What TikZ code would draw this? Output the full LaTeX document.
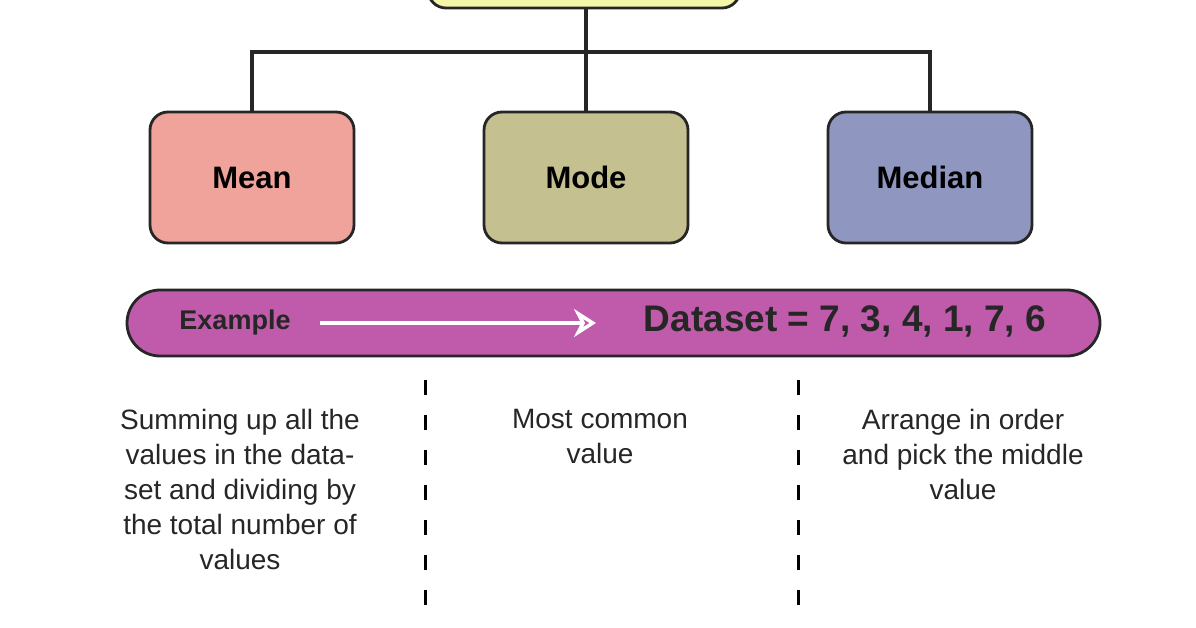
\documentclass[tikz,border=0pt]{standalone}
\usepackage{fontspec}
\setmainfont{Liberation Sans}
\usetikzlibrary{arrows.meta}
\definecolor{topc}{HTML}{F4F6A8}
\definecolor{meanc}{HTML}{F0A39A}
\definecolor{modec}{HTML}{C4C08F}
\definecolor{medc}{HTML}{8F97C0}
\definecolor{exc}{HTML}{C05AAA}
\begin{document}
\begin{tikzpicture}[x=1pt,y=-1pt,
  box/.style={draw=black!85,line width=2.8pt,rounded corners=18pt,minimum width=204pt,minimum height=131pt,font=\fontsize{31}{34}\selectfont\bfseries,inner sep=0pt},
  conn/.style={draw=black!85,line width=3.2pt},
  desc/.style={align=center,font=\fontsize{28}{35}\selectfont,text=black!85},
  sepline/.style={line width=3pt,dash pattern=on 15pt off 20pt}]
\useasboundingbox (0,0) rectangle (1196,628);
\node[box,fill=topc,minimum width=312pt,minimum height=60pt] (top) at (584,-22) {};
\node[box,fill=meanc] (mean) at (252,177.5) {Mean};
\node[box,fill=modec] (mode) at (586,177.5) {Mode};
\node[box,fill=medc] (median) at (930,177.5) {Median};
\coordinate (j) at (586,52);
\draw[conn] (top.south -| j) -- (mode.north);
\draw[conn] (mean.north) |- (j) -| (median.north);
\node[draw=black!85,line width=2.8pt,fill=exc,rounded corners=33pt,minimum width=973pt,minimum height=66pt] (ex) at (613.5,323) {};
\node[font=\fontsize{27}{30}\selectfont\bfseries,text=black!85] (exl) at (235,323) {Example};
\node[font=\fontsize{37}{40}\selectfont\bfseries,text=black!85] (ds) at (845,321) {Dataset = 7, 3, 4, 1, 7, 6};
\coordinate (a1) at (320,323);
\coordinate (a2) at (596,323);
\draw[white,line width=3.5pt,-{Stealth[length=22pt,width=28pt,open]}] (a1) -- (a2);
\coordinate (d1) at (425,380); \coordinate (d2) at (425,608);
\coordinate (d3) at (798,380); \coordinate (d4) at (798,608);
\draw[sepline] (d1) -- (d2);
\draw[sepline] (d3) -- (d4);
\node[desc,anchor=north] (t1) at (240,406) {Summing up all the\\values in the data-\\set and dividing by\\the total number of\\values};
\node[desc,anchor=north] (t2) at (600,406) {Most common\\value};
\node[desc,anchor=north] (t3) at (963,406) {Arrange in order\\and pick the middle\\value};
\end{tikzpicture}
\end{document}
